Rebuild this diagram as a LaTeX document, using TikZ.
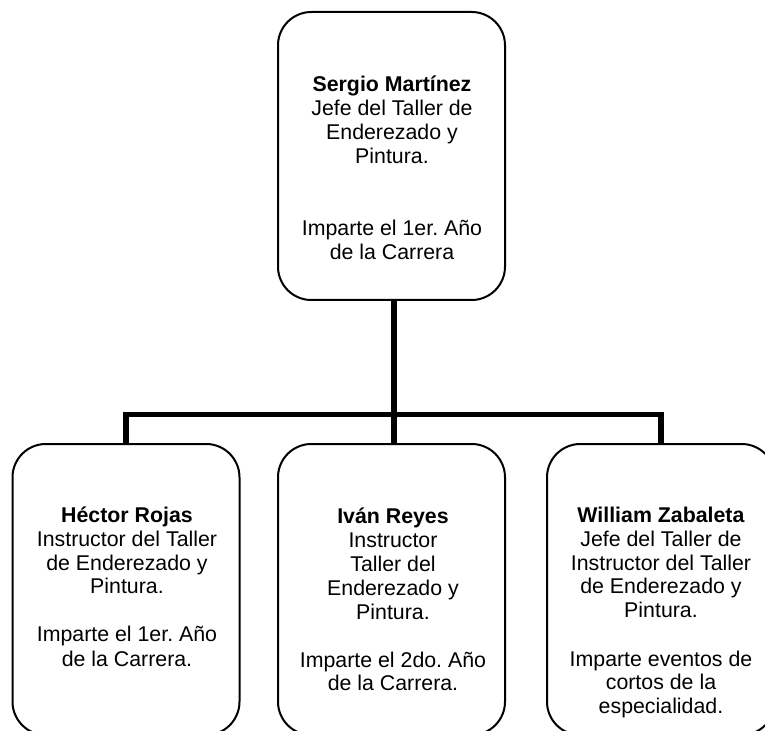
\documentclass[tikz,border=0pt]{standalone}
\usepackage{fontspec}
\setmainfont{Liberation Sans}
\frenchspacing
\begin{document}
\begin{tikzpicture}[x=0.75pt,y=-0.75pt,
  box/.style={draw=black,line width=1.5pt,rounded corners=25pt,fill=white,
    minimum width=227*0.75pt,inner sep=0pt,outer sep=0pt},
  txt/.style={anchor=base,inner sep=0pt,outer sep=0pt,
    font=\fontsize{16pt}{18pt}\selectfont\frenchspacing},
  conn/.style={draw=black,line width=4.3pt,line join=miter,line cap=butt}]
\useasboundingbox (0,0) rectangle (765,731);
\clip (0,0) rectangle (765,731);
% boxes
\node[box,minimum height=288*0.75pt] (boss) at (391.5,156) {};
\node[box,minimum height=291*0.75pt] (hr) at (126,589.5) {};
\node[box,minimum height=291*0.75pt] (ir) at (391.5,589.5) {};
\node[box,minimum width=228*0.75pt,minimum height=291*0.75pt] (wz) at (661,589.5) {};
% connectors
\coordinate (bar) at (394,414.5);
\draw[conn] (bar |- boss.south) -- (bar);
\draw[conn] (hr.north) |- (bar) -| (wz.north);
\draw[conn] (bar) -- (bar |- ir.north);
% texts
\node[txt] (bosst) at (392,92) {\begin{tabular}[t]{@{}c@{}}\textbf{Sergio Martínez}\\ Jefe del Taller de\\ Enderezado y\\ Pintura.\\ \\ \\ Imparte el 1er. Año\\ de la Carrera\end{tabular}};
\node[txt] (hrt) at (127,522) {\begin{tabular}[t]{@{}c@{}}\textbf{Héctor Rojas}\\ Instructor del Taller\\ de Enderezado y\\ Pintura.\\ \\ Imparte el 1er. Año\\ de la Carrera.\end{tabular}};
\node[txt] (irt) at (393,523) {\begin{tabular}[t]{@{}c@{}}\textbf{Iván Reyes}\\ Instructor\\ Taller del\\ Enderezado y\\ Pintura.\\ \\ Imparte el 2do. Año\\ de la Carrera.\end{tabular}};
\node[txt] (wzt) at (661,522) {\begin{tabular}[t]{@{}c@{}}\textbf{William Zabaleta}\\ Jefe del Taller de\\ Instructor del Taller\\ de Enderezado y\\ Pintura.\\ \\ Imparte eventos de\\ cortos de la\\ especialidad.\end{tabular}};
\end{tikzpicture}
\end{document}
